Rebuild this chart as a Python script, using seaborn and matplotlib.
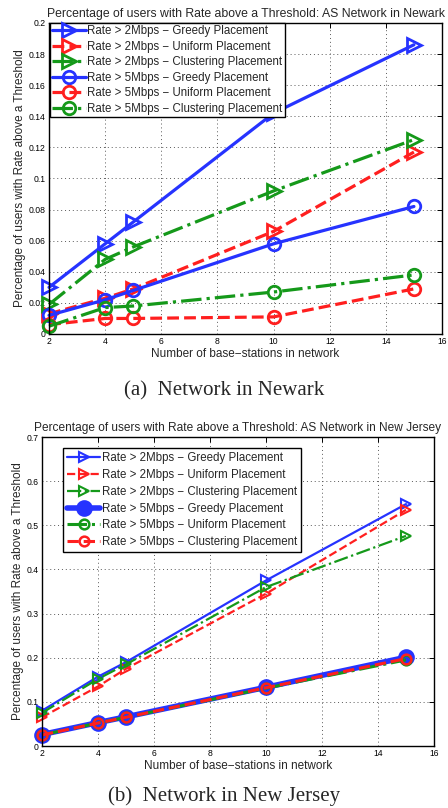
import numpy as np
import pandas as pd
import matplotlib
matplotlib.use("Agg")
import matplotlib.pyplot as plt
import seaborn as sns

# ---------------- data ----------------
stations = [2, 4, 5, 10, 15]

# Panel (a): Newark
a_greedy_2 = [0.030, 0.058, 0.072, 0.142, 0.186]
a_uniform_2 = [0.013, 0.023, 0.029, 0.066, 0.117]
a_cluster_2 = [0.019, 0.048, 0.056, 0.092, 0.125]
a_greedy_5 = [0.012, 0.022, 0.028, 0.058, 0.082]
a_uniform_5 = [0.006, 0.010, 0.010, 0.011, 0.029]
a_cluster_5 = [0.005, 0.017, 0.018, 0.027, 0.038]

# Panel (b): New Jersey
b_greedy_2 = [0.080, 0.157, 0.190, 0.375, 0.548]
b_uniform_2 = [0.065, 0.135, 0.175, 0.345, 0.535]
b_cluster_2 = [0.075, 0.152, 0.185, 0.360, 0.476]
b_greedy_5 = [0.026, 0.053, 0.066, 0.133, 0.201]
b_uniform_5 = [0.025, 0.052, 0.065, 0.131, 0.195]
b_cluster_5 = [0.025, 0.052, 0.065, 0.132, 0.198]

labels_a = ["Rate > 2Mbps \u2212 Greedy Placement",
            "Rate > 2Mbps \u2212 Uniform Placement",
            "Rate > 2Mbps \u2212 Clustering Placement",
            "Rate > 5Mbps \u2212 Greedy Placement",
            "Rate > 5Mbps \u2212 Uniform Placement",
            "Rate > 5Mbps \u2212 Clustering Placement"]
labels_b = labels_a

title_a = "Percentage of users with Rate above a Threshold: AS Network in Newark"
title_b = "Percentage of users with Rate above a Threshold: AS Network in New Jersey"
xlabel = "Number of base\u2212stations in network"
ylabel = "Percentage of users with Rate above a Threshold"
caption_a = "(a)  Network in Newark"
caption_b = "(b)  Network in New Jersey"

xticks = [2, 4, 6, 8, 10, 12, 14, 16]
yticks_a = [0, 0.02, 0.04, 0.06, 0.08, 0.10, 0.12, 0.14, 0.16, 0.18, 0.20]
yticks_b = [0, 0.1, 0.2, 0.3, 0.4, 0.5, 0.6, 0.7]

# ---------------- style ----------------
sns.set_style("white")
plt.rcParams['font.family'] = ['Liberation Sans', 'DejaVu Sans']
plt.rcParams['axes.unicode_minus'] = True

BLUE = "#2633ff"
RED = "#ff1f1f"
GREEN = "#15991a"

W, H = 448, 808
fig = plt.figure(figsize=(W / 100, H / 100), dpi=100)


def px_axes(l, t, r, b):
    return fig.add_axes([l / W, 1 - b / H, (r - l) / W, (b - t) / H])


def fmt(v):
    s = ("%.2f" % v).rstrip("0").rstrip(".")
    return s if s else "0"


def style_axes(ax, yticks, ymax, title, tsize):
    ax.set_xlim(2, 16)
    ax.set_ylim(0, ymax)
    ax.set_xticks(xticks)
    ax.set_xticklabels([str(t) for t in xticks])
    ax.set_yticks(yticks)
    ax.set_yticklabels([fmt(t) for t in yticks])
    ax.grid(True, linestyle=(0, (1, 3)), color="0.35", linewidth=0.7)
    ax.tick_params(direction="in", top=True, right=True, length=3.5,
                   width=0.7, labelsize=6.2, pad=2.5, colors="black")
    for s in ax.spines.values():
        s.set_color("black")
        s.set_linewidth(1.0)
    ax.set_xlabel(xlabel, fontsize=8.5, labelpad=1)
    ax.set_ylabel(ylabel, fontsize=8.5, labelpad=2)
    ax.set_title(title, fontsize=tsize, pad=4)


def draw(ax, y, color, ls, marker, ms, lw, mew, label, filled=False):
    sns.lineplot(x=stations, y=y, ax=ax, color=color, linestyle=ls,
                 marker=marker, markersize=ms, linewidth=lw,
                 markeredgewidth=mew, markeredgecolor=color,
                 markerfacecolor=(color if filled else "none"),
                 label=label, clip_on=False)


# ---------------- panel (a) ----------------
ax1 = px_axes(49, 23, 442, 334)
lw_a, ms_t, ms_c, mew_a = 2.3, 10.5, 9.0, 2.0
draw(ax1, a_greedy_2, BLUE, "-", ">", ms_t, lw_a, mew_a, labels_a[0])
draw(ax1, a_uniform_2, RED, "--", ">", ms_t, lw_a, mew_a, labels_a[1])
draw(ax1, a_cluster_2, GREEN, "-.", ">", ms_t, lw_a, mew_a, labels_a[2])
draw(ax1, a_greedy_5, BLUE, "-", "o", ms_c, lw_a, mew_a, labels_a[3])
draw(ax1, a_uniform_5, RED, "--", "o", ms_c, lw_a, mew_a, labels_a[4])
draw(ax1, a_cluster_5, GREEN, "-.", "o", ms_c, lw_a, mew_a, labels_a[5])
style_axes(ax1, yticks_a, 0.2, title_a, 8.8)
leg1 = ax1.legend(loc="upper left", bbox_to_anchor=(50 / W, 1 - 23 / H),
                  bbox_transform=fig.transFigure, fontsize=8.3,
                  frameon=True, fancybox=False, framealpha=1,
                  edgecolor="black", borderpad=0.2, labelspacing=0.3,
                  handlelength=2.9, handletextpad=0.15, borderaxespad=0)
leg1.get_frame().set_linewidth(1.0)

# ---------------- panel (b) ----------------
ax2 = px_axes(42, 437, 434, 746)
lw_b, ms_b, mew_b = 1.6, 7.5, 1.5
draw(ax2, b_greedy_2, BLUE, "-", ">", ms_b, lw_b, mew_b, labels_b[0])
draw(ax2, b_uniform_2, RED, "--", ">", ms_b, lw_b, mew_b, labels_b[1])
draw(ax2, b_cluster_2, GREEN, "-.", ">", ms_b, lw_b, mew_b, labels_b[2])
draw(ax2, b_greedy_5, BLUE, "-", "o", 10.5, 4.0, 1.5, labels_b[3], filled=True)
draw(ax2, b_uniform_5, GREEN, "-.", "o", 7.0, lw_b + 0.6, 1.8, labels_b[4])
draw(ax2, b_cluster_5, RED, "--", "o", 7.0, lw_b + 0.6, 1.8, labels_b[5])
style_axes(ax2, yticks_b, 0.7, title_b, 8.6)
leg2 = ax2.legend(loc="upper left", bbox_to_anchor=(63 / W, 1 - 448 / H),
                  bbox_transform=fig.transFigure, fontsize=8.3,
                  frameon=True, fancybox=False, framealpha=1,
                  edgecolor="black", borderpad=0.35, labelspacing=0.42,
                  handlelength=2.9, handletextpad=0.15, borderaxespad=0)
leg2.get_frame().set_linewidth(1.0)

# ---------------- captions ----------------
fig.text(0.5, 1 - 395 / H, caption_a, ha="center", va="baseline",
         fontsize=15, family=["Liberation Serif", "DejaVu Serif"])
fig.text(0.5, 1 - 801 / H, caption_b, ha="center", va="baseline",
         fontsize=15, family=["Liberation Serif", "DejaVu Serif"])

fig.savefig("out.png", dpi=100)
